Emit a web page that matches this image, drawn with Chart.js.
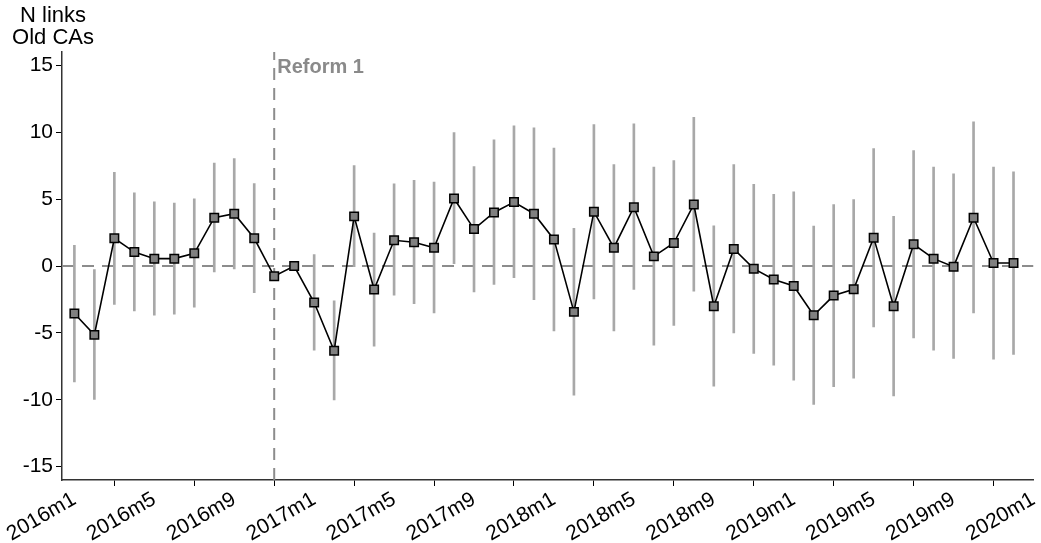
<!DOCTYPE html>
<html>
<head>
<meta charset="utf-8">
<script src="https://cdn.jsdelivr.net/npm/chart.js@4"></script>
<style>
    html, body { margin: 0; padding: 0; background: #fff; }
    #wrap { width: 1041px; height: 543px; position: relative; }
</style>
</head>
<body>
<div id="wrap"><canvas id="linksChart"></canvas></div>
<script>
// months since 2016m1 (0 = 2016m1 ... 47 = 2019m12)
const months = [...Array(48).keys()];

const estimates = [
    -3.55, -5.15, 2.07, 1.04, 0.55, 0.55, 0.95, 3.61, 3.91, 2.07, -0.77, 0.0,
    -2.73, -6.34, 3.71, -1.76, 1.92, 1.77, 1.37, 5.05, 2.76, 4.0, 4.78, 3.91,
    1.99, -3.43, 4.06, 1.37, 4.4, 0.72, 1.72, 4.6, -3.01, 1.27, -0.2, -1.01,
    -1.49, -3.68, -2.21, -1.74, 2.12, -3.01, 1.62, 0.55, -0.05, 3.61, 0.22, 0.22
];
const ciLow = [
    -8.66, -9.97, -2.88, -3.36, -3.68, -3.6, -3.08, -0.45, -0.22, -1.99, null, null,
    -6.29, -10.02, -0.05, -5.99, -2.19, -2.81, -3.5, 0.18, -1.94, -1.37, -0.87, -2.51,
    -4.85, -9.65, -2.46, -4.85, -1.76, -5.92, -4.45, -1.89, -8.98, -5.0, -6.54, -7.41,
    -8.53, -10.34, -9.03, -8.38, -4.55, -9.72, -5.37, -6.29, -6.91, -3.5, -6.96, -6.61
];
const ciHigh = [
    1.54, -0.27, 7.0, 5.48, 4.8, 4.7, 5.03, 7.69, 8.04, 6.17, null, null,
    0.85, -2.61, 7.51, 2.46, 6.15, 6.4, 6.27, 9.98, 7.44, 9.43, 10.48, 10.33,
    8.81, 2.81, 10.57, 7.59, 10.63, 7.39, 7.89, 11.12, 3.01, 7.59, 6.1, 5.35,
    5.55, 2.99, 4.6, 4.96, 8.78, 3.71, 8.63, 7.39, 6.9, 10.78, 7.39, 7.04
];

const xTickLabels = ['2016m1', '2016m5', '2016m9', '2017m1', '2017m5', '2017m9', '2018m1',
    '2018m5', '2018m9', '2019m1', '2019m5', '2019m9', '2020m1'];
const yTicks = [-15, -10, -5, 0, 5, 10, 15];
const reformMonth = 10;
const reformLabel = 'Reform 1';
const yTitle = ['N links', 'Old CAs'];

const FONT = '"Liberation Sans", Arial, sans-serif';
const X_MIN = -0.62, X_MAX = 48;

const textPlugin = {
    id: 'textPlugin',
    afterDraw(chart) {
        const ctx = chart.ctx;
        const x = chart.scales.x;
        const y = chart.scales.y;
        ctx.save();
        ctx.fillStyle = '#000';
        ctx.font = '22px ' + FONT;
        ctx.textAlign = 'center';
        ctx.textBaseline = 'alphabetic';
        ctx.fillText(yTitle[0], 53, 22);
        ctx.fillText(yTitle[1], 53, 44);
        ctx.fillStyle = '#8a8a8a';
        ctx.font = 'bold 20px ' + FONT;
        ctx.textAlign = 'left';
        ctx.fillText(reformLabel, x.getPixelForValue(reformMonth) + 3, y.getPixelForValue(14.4));
        ctx.restore();
    }
};

const ctx = document.getElementById('linksChart').getContext('2d');
const chart = new Chart(ctx, {
    data: {
        datasets: [{
            type: 'line',
            data: months.map(m => ({ x: m, y: estimates[m] })),
            borderColor: '#000',
            borderWidth: 1.6,
            pointStyle: 'rect',
            pointRadius: 6,
            pointBackgroundColor: '#808080',
            pointBorderColor: '#000',
            pointBorderWidth: 1.5,
            tension: 0,
            order: 0
        }, {
            type: 'bar',
            data: months.filter(m => ciLow[m] !== null).map(m => ({ x: m, y: [ciLow[m], ciHigh[m]] })),
            backgroundColor: '#a8a8a8',
            barThickness: 2,
            borderWidth: 0,
            order: 1
        }, {
            type: 'line',
            data: [{ x: X_MIN, y: 0 }, { x: X_MAX, y: 0 }],
            borderColor: '#8c8c8c',
            borderWidth: 2,
            borderDash: [12, 8],
            pointRadius: 0,
            order: 2
        }, {
            type: 'line',
            data: [{ x: reformMonth, y: -16 }, { x: reformMonth, y: 16 }],
            borderColor: '#8c8c8c',
            borderWidth: 2,
            borderDash: [12, 8],
            pointRadius: 0,
            order: 2
        }]
    },
    options: {
        responsive: true,
        maintainAspectRatio: false,
        animation: false,
        layout: { padding: { top: 52, right: 6, left: 0, bottom: 0 } },
        plugins: {
            legend: { display: false },
            tooltip: { enabled: false }
        },
        scales: {
            x: {
                type: 'linear',
                min: X_MIN,
                max: X_MAX,
                offset: false,
                afterBuildTicks: scale => {
                    scale.ticks = xTickLabels.map((_, i) => ({ value: i * 4 }));
                },
                afterFit: scale => {
                    scale.height = 63;
                    scale.paddingLeft = 0;
                    scale.paddingRight = 0;
                },
                ticks: {
                    color: '#000',
                    font: { family: FONT, size: 21 },
                    minRotation: 30,
                    maxRotation: 30,
                    padding: 1,
                    callback: value => xTickLabels[value / 4]
                },
                grid: { drawOnChartArea: false, tickLength: 6, color: '#000', lineWidth: 1 },
                border: { color: '#333', width: 1.5 }
            },
            y: {
                min: -16,
                max: 16,
                afterBuildTicks: scale => {
                    scale.ticks = yTicks.map(v => ({ value: v }));
                },
                afterFit: scale => {
                    scale.width = 62;
                    scale.paddingTop = 0;
                    scale.paddingBottom = 0;
                },
                ticks: {
                    color: '#000',
                    font: { family: FONT, size: 21 },
                    padding: 3
                },
                grid: { drawOnChartArea: false, tickLength: 6, color: '#000', lineWidth: 1 },
                border: { color: '#333', width: 1.5 }
            }
        }
    },
    plugins: [textPlugin]
});
</script>
</body>
</html>
